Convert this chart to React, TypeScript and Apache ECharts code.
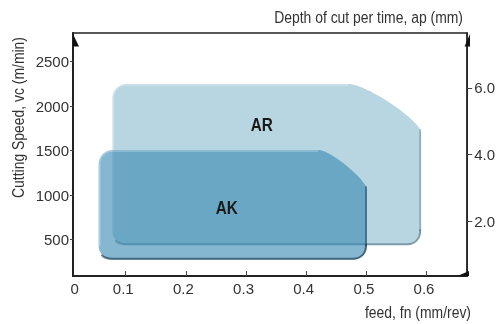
import React, { useEffect, useRef } from "react";
import * as echarts from "echarts";

// ---- data (feed fn in mm/rev, cutting speed vc in m/min) ----
const regionNames = ["AR", "AK"];
const feedLow = [0.078, 0.055];
const feedHigh = [0.591, 0.501];
const vcLow = [436, 273];
const vcHigh = [2249, 1506];
const chamferFeed = [0.47, 0.42]; // where the top edge starts to bend down
const chamferVc = [1697, 1055]; // where the right edge becomes straight
const labelFeed = [0.326, 0.268];
const labelVc = [1787, 852];

const feedTicks = [0.1, 0.2, 0.3, 0.4, 0.5, 0.6];
const vcTicks = [500, 1000, 1500, 2000, 2500];
const apTicks = [2, 4, 6];

const FEED_MIN = 0.0124;
const FEED_MAX = 0.6675;
const VC_MIN = 90;
const VC_MAX = 2823;
const AP_MIN = 0.374;
const AP_MAX = 7.64;

const FONT = '"Liberation Sans", Arial, sans-serif';
const TXT = "#333";
const TICK_FS = 15;

const fills = ["#b8d5e2", "rgba(52,136,177,0.6)"];
const shadows = ["rgba(40,70,90,0.4)", "rgba(20,50,70,0.6)"];
const sideShadows = ["rgba(60,90,110,0.3)", "rgba(20,50,70,0.45)"];

export default function App() {
  const ref = useRef<HTMLDivElement>(null);
  useEffect(() => {
    if (!ref.current) return;
    const chart = echarts.init(ref.current, null, { renderer: "svg" });
    const L = 73, T = 33, R = 470, B = 276;
    const option: any = {
      animation: false,
      grid: {
        left: L, top: T, right: 498 - R, bottom: 324 - B,
        show: true, borderColor: "#222", borderWidth: 1.5, backgroundColor: "transparent",
      },
      xAxis: {
        type: "value", min: FEED_MIN, max: FEED_MAX, position: "bottom",
        axisLine: { show: true, lineStyle: { color: "#222", width: 2 } },
        axisTick: { show: true, inside: true, length: 5, customValues: feedTicks, lineStyle: { color: "#444", width: 1 } },
        axisLabel: {
          customValues: [FEED_MIN + 0.007, ...feedTicks],
          formatter: (v: number) => (v < 0.05 ? "0" : v.toFixed(1)),
          color: TXT, fontSize: TICK_FS, fontFamily: FONT, margin: 5, padding: [0, 5, 0, 0],
        },
        splitLine: { show: false },
      },
      yAxis: [
        {
          type: "value", min: VC_MIN, max: VC_MAX, position: "left",
          axisLine: { show: true, lineStyle: { color: "#222", width: 2 } },
          axisTick: { show: true, inside: false, length: 3, customValues: vcTicks, lineStyle: { color: "#444", width: 1 } },
          axisLabel: {
            customValues: vcTicks, formatter: (v: number) => String(v),
            color: TXT, fontSize: TICK_FS, fontFamily: FONT, margin: 4,
          },
          splitLine: { show: false },
        },
        {
          type: "value", min: AP_MIN, max: AP_MAX, position: "right",
          axisLine: { show: true, lineStyle: { color: "#222", width: 1.5 } },
          axisTick: { show: true, inside: false, length: 5, customValues: apTicks, lineStyle: { color: "#444", width: 1 } },
          axisLabel: {
            customValues: apTicks, formatter: (v: number) => v.toFixed(1),
            color: TXT, fontSize: TICK_FS, fontFamily: FONT, margin: 7,
          },
          splitLine: { show: false },
        },
      ],
      series: [
        {
          type: "custom",
          xAxisIndex: 0, yAxisIndex: 0,
          encode: { x: [0, 1, 4], y: [2, 3, 5] },
          data: regionNames.map((_, i) => [feedLow[i], feedHigh[i], vcLow[i], vcHigh[i], chamferFeed[i], chamferVc[i]]),
          renderItem: (params: any, api: any) => {
            const i = params.dataIndex;
            const [xl, yb] = api.coord([api.value(0), api.value(2)]);
            const [xr, yt] = api.coord([api.value(1), api.value(3)]);
            const xc = api.coord([api.value(4), api.value(3)])[0];
            const yc = api.coord([api.value(1), api.value(5)])[1];
            const r = 14, q = 0.45 * r, a = 0.25;
            const d =
              `M${xl},${yt + r} C${xl},${yt + q} ${xl + q},${yt} ${xl + r},${yt} ` +
              `L${xc},${yt} C${xc + a * (xr - xc)},${yt} ${xr},${yc - a * (yc - yt)} ${xr},${yc} ` +
              `L${xr},${yb - r} C${xr},${yb - q} ${xr - q},${yb} ${xr - r},${yb} ` +
              `L${xl + r},${yb} C${xl + q},${yb} ${xl},${yb - q} ${xl},${yb - r} Z`;
            const s = 1;
            const dSide =
              `M${xr - s},${yc - 4} L${xr - s},${yb - r}`;
            const dShadow =
              `M${xr - s},${yb - r - 2} L${xr - s},${yb - r} C${xr - s},${yb - q} ${xr - q},${yb - s} ${xr - r},${yb - s} ` +
              `L${xl + r},${yb - s} C${xl + q + 2},${yb - s} ${xl + 4},${yb - 3} ${xl + 3},${yb - 5}`;
            const dHi =
              `M${xl + s},${yb - r} L${xl + s},${yt + r} C${xl + s},${yt + q} ${xl + q},${yt + s} ${xl + r},${yt + s} L${xc},${yt + s}`;
            return {
              type: "group",
              children: [
                { type: "path", shape: { pathData: d }, style: { fill: fills[i], stroke: null } },
                { type: "path", shape: { pathData: dHi }, style: { fill: null, stroke: "rgba(255,255,255,0.3)", lineWidth: 1.5 } },
                { type: "path", shape: { pathData: dSide }, style: { fill: null, stroke: sideShadows[i], lineWidth: 2 } },
                { type: "path", shape: { pathData: dShadow }, style: { fill: null, stroke: shadows[i], lineWidth: 2 } },
              ],
            };
          },
          z: 2,
        },
        {
          type: "custom",
          xAxisIndex: 0, yAxisIndex: 0,
          data: regionNames.map((_, i) => [labelFeed[i], labelVc[i]]),
          renderItem: (params: any, api: any) => {
            const [x, y] = api.coord([api.value(0), api.value(1)]);
            return {
              type: "text", x, y, scaleX: 0.85,
              style: {
                text: regionNames[params.dataIndex], fill: "#1a1a1a", fontSize: 18, fontWeight: "bold",
                fontFamily: FONT, align: "center", verticalAlign: "middle",
              },
            };
          },
          z: 5,
        },
      ],
      graphic: [
        { type: "polygon", shape: { points: [[L, 34], [L, 46.5], [L + 6, 46.5]] }, style: { fill: "#111" }, z: 10 },
        { type: "polygon", shape: { points: [[R, 34], [R, 46.5], [R - 5.5, 46.5]] }, style: { fill: "#111" }, z: 10 },
        { type: "polygon", shape: { points: [[R - 12.5, B], [R - 1, B], [R - 1, B - 5]] }, style: { fill: "#111" }, z: 10 },
        {
          type: "text", x: 463, y: 17, scaleX: 0.82,
          style: { text: "Depth of cut per time, ap (mm)", fill: TXT, fontSize: 17, fontFamily: FONT, align: "right", verticalAlign: "middle" },
        },
        {
          type: "text", x: 471, y: 312, scaleX: 0.82,
          style: { text: "feed, fn (mm/rev)", fill: TXT, fontSize: 17, fontFamily: FONT, align: "right", verticalAlign: "middle" },
        },
        {
          type: "text", x: 17.5, y: 117.5, rotation: Math.PI / 2, scaleX: 0.82,
          style: { text: "Cutting Speed, vc (m/min)", fill: TXT, fontSize: 17, fontFamily: FONT, align: "center", verticalAlign: "middle" },
        },
      ],
    };
    chart.setOption(option);
    return () => chart.dispose();
  }, []);
  return <div ref={ref} style={{ position: "fixed", left: 0, top: 0, width: 498, height: 324 }} />;
}
